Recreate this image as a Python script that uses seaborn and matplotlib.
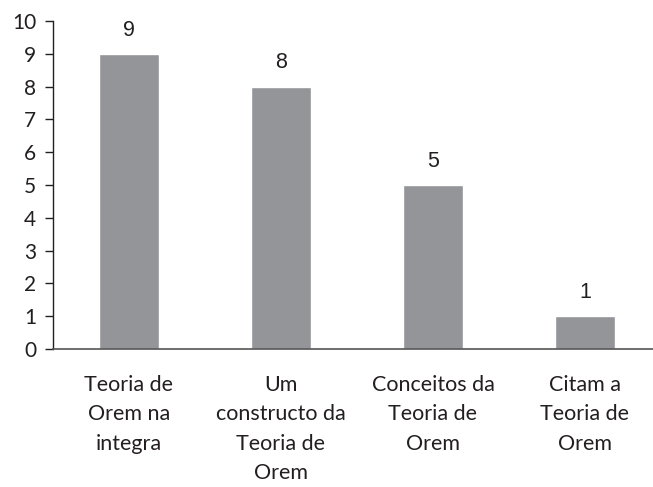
import matplotlib
matplotlib.use("Agg")
import matplotlib.pyplot as plt
import seaborn as sns
import pandas as pd

# categories and counts
categorias = ["Teoria de\nOrem na\nintegra",
              "Um\nconstructo da\nTeoria de\nOrem",
              "Conceitos da\nTeoria de\nOrem",
              "Citam a\nTeoria de\nOrem"]
valores = [9, 8, 5, 1]

df = pd.DataFrame({"categoria": categorias, "valor": valores})

sns.set_style("white")
plt.rcParams['font.family'] = ['Lato', 'DejaVu Sans']

fig = plt.figure(figsize=(6.53, 4.87), dpi=100)
ax = fig.add_axes([53/653, 138/487, 608/653, 328/487])

sns.barplot(data=df, x="categoria", y="valor", color="#939598",
            width=0.4, saturation=1, ax=ax)

# value labels above the bars
for i, v in enumerate(valores):
    ax.text(i, v + 0.4, str(v), ha="center", va="bottom",
            fontsize=15.5, family="Liberation Sans", color="#231f20")

ax.set_xlim(-0.5, 3.5)
ax.set_ylim(0, 10)
ax.set_yticks(range(0, 11))
ax.set_xlabel("")
ax.set_ylabel("")
sns.despine(ax=ax)
ax.spines['left'].set_color("#231f20")
ax.spines['bottom'].set_color("#555555")
ax.spines['left'].set_linewidth(1.0)
ax.spines['bottom'].set_linewidth(1.2)
ax.tick_params(axis="y", left=True, length=6, width=1, color="#231f20",
               labelsize=15, labelcolor="#231f20", pad=6)
ax.tick_params(axis="x", bottom=False, labelsize=15.5, labelcolor="#231f20", pad=15)
for lbl in ax.get_xticklabels():
    lbl.set_linespacing(1.6)
    lbl.set_va("top")

fig.savefig("out.png", dpi=100)
